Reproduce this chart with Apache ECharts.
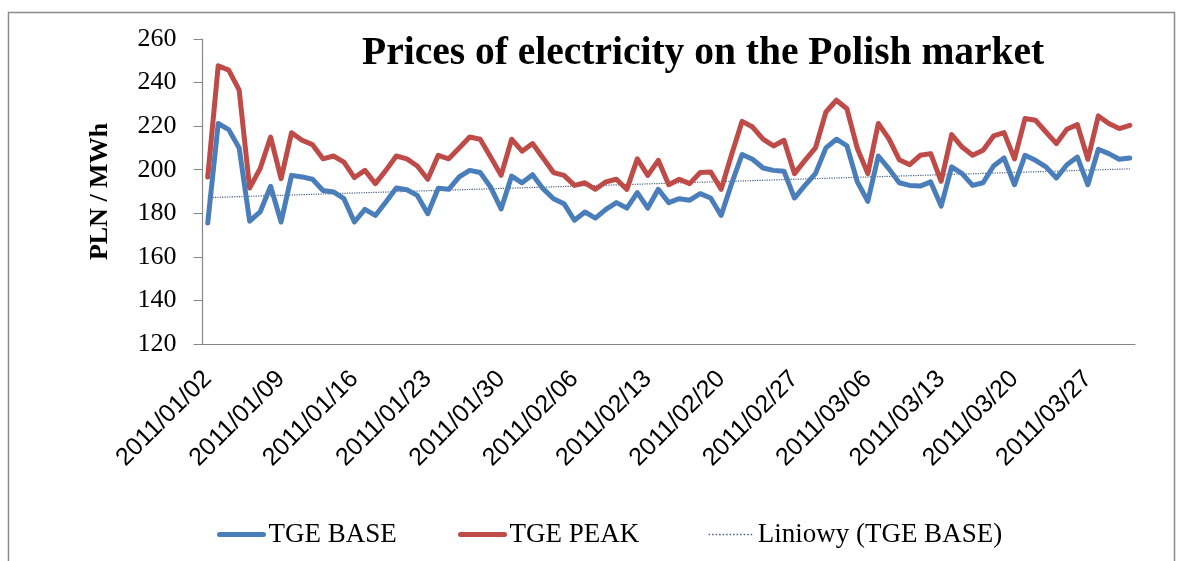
<!DOCTYPE html>
<html>
<head>
<meta charset="utf-8">
<script src="https://cdn.jsdelivr.net/npm/echarts@6/dist/echarts.min.js"></script>
<style>
html,body{margin:0;padding:0;background:#fff;}
#chart{width:1179px;height:561px;}
</style>
</head>
<body>
<div id="chart"></div>
<script>
var dates = [
 '2011/01/02','2011/01/03','2011/01/04','2011/01/05','2011/01/06','2011/01/07','2011/01/08','2011/01/09','2011/01/10','2011/01/11',
 '2011/01/12','2011/01/13','2011/01/14','2011/01/15','2011/01/16','2011/01/17','2011/01/18','2011/01/19','2011/01/20','2011/01/21',
 '2011/01/22','2011/01/23','2011/01/24','2011/01/25','2011/01/26','2011/01/27','2011/01/28','2011/01/29','2011/01/30','2011/01/31',
 '2011/02/01','2011/02/02','2011/02/03','2011/02/04','2011/02/05','2011/02/06','2011/02/07','2011/02/08','2011/02/09','2011/02/10',
 '2011/02/11','2011/02/12','2011/02/13','2011/02/14','2011/02/15','2011/02/16','2011/02/17','2011/02/18','2011/02/19','2011/02/20',
 '2011/02/21','2011/02/22','2011/02/23','2011/02/24','2011/02/25','2011/02/26','2011/02/27','2011/02/28','2011/03/01','2011/03/02',
 '2011/03/03','2011/03/04','2011/03/05','2011/03/06','2011/03/07','2011/03/08','2011/03/09','2011/03/10','2011/03/11','2011/03/12',
 '2011/03/13','2011/03/14','2011/03/15','2011/03/16','2011/03/17','2011/03/18','2011/03/19','2011/03/20','2011/03/21','2011/03/22',
 '2011/03/23','2011/03/24','2011/03/25','2011/03/26','2011/03/27','2011/03/28','2011/03/29','2011/03/30','2011/03/31'
];

var tgeBase = [
 175.5, 221.2, 218.4, 210, 176.4, 180.6, 192.4, 176, 197.4, 196.7, 195.6, 190.5, 189.8, 186.7, 176, 181.8, 179, 185.2, 191.6, 190.8, 188.2, 179.8,
 191.5, 191, 196.7, 199.7, 198.7, 192, 182, 197.1, 194, 197.7, 191.3, 186.7, 184.4, 176.8, 180.6, 177.8, 181.8, 184.9, 182.4, 189.5, 182.4, 191,
 184.9, 186.7, 186, 189, 187, 179, 193.6, 207, 204.8, 200.8, 199.7, 199.3, 187, 192.8, 198.2, 210, 214, 211, 194.4, 185.5, 206.3, 200.5,
 194, 192.8, 192.5, 194.4, 183.3, 201.3, 198.2, 192.8, 194, 201.7, 205.4, 193.1, 206.6, 204.3, 201.3, 196.2, 202.3, 205.8, 193.1, 209.4, 207.4, 204.8, 205.4
];

var tgePeak = [
 196.7, 247.7, 245.7, 236.5, 191.6, 200.5, 215, 195.9, 217, 213.5, 211.5, 205, 206.3, 203.5, 196.4, 199.7, 193.6, 199.7, 206.3, 205, 201.7, 195.6,
 206.6, 205, 210, 215, 214, 205.8, 197.4, 214, 208.5, 212, 205.4, 198.7, 197.4, 192.8, 194, 191, 194.4, 195.6, 191, 205, 197.4, 204.3,
 193.1, 195.6, 193.6, 198.7, 199, 191, 207, 222.2, 219.6, 214, 210.9, 213.5, 198.2, 204.3, 210, 226.5, 231.9, 228, 209.7, 198.2, 221.2, 214.3,
 204.6, 202.3, 206.6, 207.4, 194.7, 216.1, 210.4, 206.6, 208.9, 215.5, 217, 205, 223.5, 222.7, 217.3, 212, 218.6, 220.7, 204.8, 224.7, 221.2, 218.9, 220.4
];

// linear trend of TGE BASE: values at first and last day
var trendEnds = [187.2, 200.4];

var yTicks = { min: 120, max: 260, interval: 20 };

var trendData = dates.map(function (d, i) {
  if (i === 0) return trendEnds[0];
  if (i === dates.length - 1) return trendEnds[1];
  return null;
});

var serif = '"Liberation Serif", "DejaVu Serif", serif';
var sans = '"Liberation Sans", "Open Sans", sans-serif';

var chart = echarts.init(document.getElementById('chart'), null, { renderer: 'canvas' });

function legendAt(left, name, lw, ltype) {
  return {
    data: [name], left: left, top: 516, itemWidth: 44, itemHeight: 12, itemGap: 5,
    itemStyle: { opacity: 0 },
    lineStyle: { width: lw, type: ltype },
    textStyle: { fontFamily: serif, fontSize: 27, color: '#000' }
  };
}

chart.setOption({
  animation: false,
  backgroundColor: '#ffffff',
  graphic: [{
    type: 'rect', silent: true, z: -10,
    shape: { x: 8.5, y: 12.5, width: 1166, height: 600 },
    style: { fill: 'none', stroke: '#8c8c8c', lineWidth: 1.5 }
  }],
  title: {
    text: 'Prices of electricity on the Polish market',
    left: 357, top: 29,
    textStyle: { fontFamily: serif, fontWeight: 'bold', fontSize: 39.5, color: '#000' }
  },
  legend: [
    legendAt(212, 'TGE BASE', 5, 'solid'),
    legendAt(453, 'TGE PEAK', 5, 'solid'),
    legendAt(703, 'Liniowy (TGE BASE)', 1.3, [1.5, 2])
  ],
  grid: { left: 202.5, right: 44, top: 39, bottom: 217, containLabel: false },
  xAxis: {
    type: 'category',
    data: dates,
    boundaryGap: true,
    axisLine: { lineStyle: { color: '#868686', width: 1.2 } },
    axisTick: { interval: 6, length: 9, lineStyle: { color: '#868686' } },
    axisLabel: {
      interval: 6, rotate: 45, margin: 31,
      fontFamily: sans, fontSize: 25, color: '#000'
    },
    splitLine: { show: false }
  },
  yAxis: {
    type: 'value',
    min: yTicks.min, max: yTicks.max, interval: yTicks.interval,
    name: 'PLN / MWh', nameLocation: 'middle', nameGap: 89,
    nameTextStyle: { fontFamily: serif, fontWeight: 'bold', fontSize: 26, color: '#000' },
    axisLine: { show: true, lineStyle: { color: '#868686', width: 1.2 } },
    axisTick: { show: true, length: 9, lineStyle: { color: '#868686' } },
    axisLabel: { margin: 26, fontFamily: serif, fontSize: 26, color: '#000' },
    splitLine: { show: false }
  },
  series: [
    {
      name: 'TGE BASE', type: 'line', data: tgeBase, symbol: 'none',
      lineStyle: { color: '#4A7EBB', width: 5, join: 'round', cap: 'round' },
      itemStyle: { color: '#4A7EBB' }, z: 3
    },
    {
      name: 'TGE PEAK', type: 'line', data: tgePeak, symbol: 'none',
      lineStyle: { color: '#BE4B48', width: 5, join: 'round', cap: 'round' },
      itemStyle: { color: '#BE4B48' }, z: 2
    },
    {
      name: 'Liniowy (TGE BASE)', type: 'line', data: trendData, symbol: 'none',
      connectNulls: true,
      lineStyle: { color: '#4a5f86', width: 1.2, type: 'dotted' },
      itemStyle: { color: '#4a5f86' }, z: 1
    }
  ]
});
</script>
</body>
</html>
